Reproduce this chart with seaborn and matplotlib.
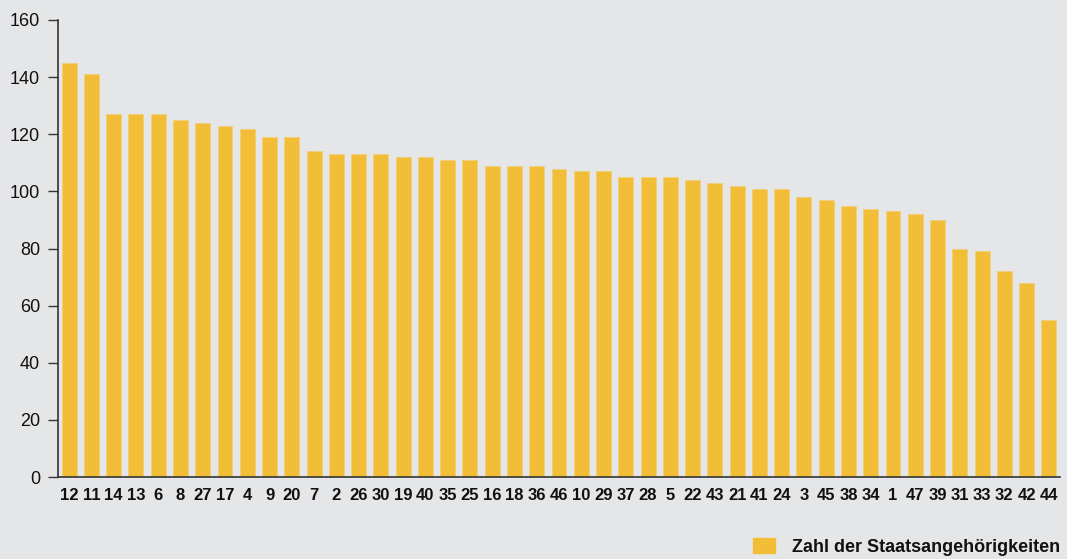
import matplotlib
matplotlib.use("Agg")
import matplotlib.pyplot as plt
import seaborn as sns
import pandas as pd
from matplotlib.patches import Patch

categories = ["12", "11", "14", "13", "6", "8", "27", "17", "4", "9", "20", "7", "2", "26", "30",
              "19", "40", "35", "25", "16", "18", "36", "46", "10", "29", "37", "28", "5", "22", "43",
              "21", "41", "24", "3", "45", "38", "34", "1", "47", "39", "31", "33", "32", "42", "44"]
values = [145, 141, 127, 127, 127, 125, 124, 123, 122, 119, 119, 114, 113, 113, 113,
          112, 112, 111, 111, 109, 109, 109, 108, 107, 107, 105, 105, 105, 104, 103,
          102, 101, 101, 98, 97, 95, 94, 93, 92, 90, 80, 79, 72, 68, 55]
series_name = "Zahl der Staatsangehörigkeiten"

bg = "#E5E6E8"
bar_color = "#F2BE38"

sns.set_style("white")
plt.rcParams["font.family"] = ["Liberation Sans", "DejaVu Sans"]

df = pd.DataFrame({"cat": categories, "val": values})

fig = plt.figure(figsize=(10.67, 5.59), dpi=100, facecolor=bg)
ax = fig.add_axes([58/1067, (559-477)/559, (1060-58)/1067, (477-20)/559])
ax.set_facecolor(bg)

sns.barplot(data=df, x="cat", y="val", order=categories, color=bar_color,
            width=0.67, saturation=1, ax=ax, edgecolor="#F0CF7A", linewidth=0.6)

ax.set_ylim(0, 160)
ax.set_xlim(-0.5, len(categories) - 0.5)
ax.set_yticks(range(0, 161, 20))
ax.set_xlabel("")
ax.set_ylabel("")
for s in ["top", "right"]:
    ax.spines[s].set_visible(False)
ax.spines["left"].set_color("#333333")
ax.spines["bottom"].set_color("#333333")
ax.spines["left"].set_linewidth(1.2)
ax.spines["bottom"].set_linewidth(1.2)
ax.tick_params(axis="y", left=True, direction="out", length=7, width=1.0, color="#333333",
               labelsize=13, labelcolor="#111111", pad=6)
ax.tick_params(axis="x", bottom=False, length=0, labelsize=12, labelcolor="#111111", pad=8)
for lbl in ax.get_xticklabels():
    lbl.set_fontweight("bold")

handle = Patch(facecolor=bar_color, edgecolor=bar_color)
fig.legend([handle], [series_name], loc="lower right",
           bbox_to_anchor=(1060/1067, 3/559), borderaxespad=0, borderpad=0,
           frameon=False, handlelength=1.2, handleheight=0.9,
           handletextpad=0.95, prop={"size": 13, "weight": "bold"}, labelcolor="#111111")

fig.savefig("out.png", dpi=100, facecolor=bg)
